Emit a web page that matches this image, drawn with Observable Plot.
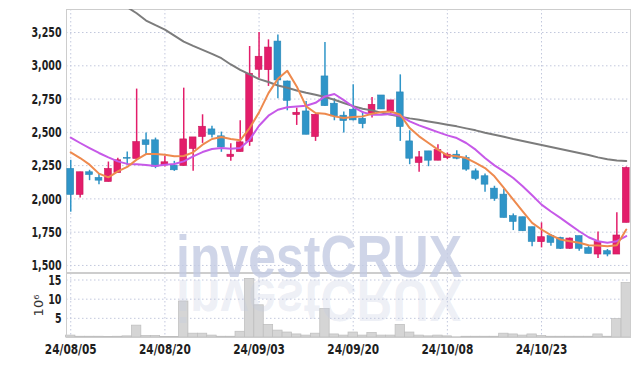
<!DOCTYPE html>
<html><head><meta charset="utf-8">
<script src="https://cdn.jsdelivr.net/npm/d3@7"></script>
<script src="https://cdn.jsdelivr.net/npm/@observablehq/plot@0.6"></script>
<style>
body{margin:0;background:#fff;}
#wrap{position:relative;width:639px;height:366px;overflow:hidden;}
#wrap svg{display:block;overflow:visible;}
#wm{position:absolute;left:0;top:0;pointer-events:none;}
</style></head><body><div id="wrap"></div>
<script>
const dates = ["24/08/05","24/08/06","24/08/07","24/08/08","24/08/09","24/08/12","24/08/13","24/08/14","24/08/16","24/08/19",
"24/08/20","24/08/21","24/08/22","24/08/23","24/08/26","24/08/27","24/08/28","24/08/29","24/08/30","24/09/02",
"24/09/03","24/09/04","24/09/05","24/09/06","24/09/09","24/09/10","24/09/11","24/09/12","24/09/13","24/09/19",
"24/09/20","24/09/23","24/09/24","24/09/25","24/09/26","24/09/27","24/09/30","24/10/02","24/10/04","24/10/07",
"24/10/08","24/10/10","24/10/11","24/10/14","24/10/15","24/10/16","24/10/17","24/10/18","24/10/21","24/10/22",
"24/10/23","24/10/24","24/10/25","24/10/28","24/10/29","24/10/30","24/10/31","24/11/01","24/11/04","24/11/05"];
const open = [2225,2030,2200,2157,2127,2195,2307,2300,2440,2440, 2252,2250,2247,2375,2465,2522,2470,2315,2352,2427, 2970,2967,3182,2882,2630,2657,2465,2920,2715,2625, 2670,2602,2640,2777,2657,2800,2432,2270,2357,2287, 2307,2332,2307,2207,2170,2077,2032,1870,1862,1787, 1675,1720,1707,1625,1720,1630,1582,1607,1582,1820];
const close = [2030,2200,2180,2137,2225,2290,2302,2427,2405,2242, 2275,2215,2447,2462,2542,2482,2387,2332,2425,2940, 3068,3137,2890,2737,2647,2482,2632,2697,2620,2585, 2590,2562,2707,2672,2740,2540,2302,2312,2287,2367, 2332,2302,2220,2150,2107,2000,1857,1827,1757,1677, 1712,1670,1625,1702,1625,1587,1675,1582,1725,2232];
const high = [2290,2200,2215,2187,2277,2305,2352,2825,2495,2457, 2320,2282,2832,2462,2632,2545,2502,2415,2587,3145, 3250,3195,3232,2885,2682,2732,2632,3175,2752,2652, 2857,2657,2762,2777,2740,2932,2512,2357,2357,2407, 2345,2362,2325,2225,2187,2095,2070,1887,1862,1787, 1820,1732,1712,1707,1720,1645,1752,1620,1895,2240];
const low = [1900,2007,2137,2107,2127,2195,2252,2300,2332,2227, 2240,2207,2247,2207,2417,2457,2350,2282,2352,2395, 2907,2845,2752,2662,2552,2482,2432,2697,2587,2495, 2585,2527,2607,2672,2637,2432,2257,2200,2242,2287, 2295,2295,2207,2137,2050,1982,1857,1762,1757,1640, 1632,1645,1620,1622,1607,1587,1552,1565,1582,1820];
const volume = [0.5,0.2,0.2,0.2,0.1,0.2,0.3,3.1,0.4,0.4, 0.1,0.1,9.4,1.0,1.0,0.5,0.2,0.2,1.5,15.3, 8.4,3.3,1.8,1.3,0.8,0.5,1.0,7.4,0.8,0.5, 1.3,0.5,1.2,0.5,0.5,3.3,1.3,0.5,0.3,0.5, 0.3,0.05,0.2,0.2,0.2,0.2,1.0,0.8,0.5,0.8, 0.4,0.2,0.2,0.2,0.2,0.2,0.8,0.2,4.8,14.2];
const ma5 = [2350,2307,2257,2190,2162,2207,2240,2295,2337,2337, 2332,2320,2322,2350,2407,2450,2465,2450,2440,2532, 2650,2795,2902,2962,2845,2695,2645,2640,2620,2607, 2615,2620,2640,2652,2657,2632,2532,2470,2420,2370, 2327,2320,2307,2270,2232,2170,2082,1995,1907,1820, 1770,1728,1695,1682,1670,1652,1650,1645,1652,1770];
const ma20 = [2460,2420,2382,2345,2312,2282,2263,2260,2255,2247, 2257,2262,2282,2320,2352,2375,2382,2377,2382,2445, 2550,2625,2670,2688,2695,2700,2722,2770,2788,2742, 2692,2652,2632,2632,2637,2625,2582,2552,2527,2502, 2477,2457,2420,2370,2307,2252,2207,2157,2095,2027, 1957,1905,1857,1807,1757,1712,1682,1670,1682,1720];
const ma120 = [null,null,null,null,null,null,3440,3395,3340,3305, 3272,3227,3182,3150,3120,3090,3057,3010,2970,2935, 2900,2878,2852,2835,2815,2797,2782,2765,2745,2720, 2697,2677,2665,2648,2632,2618,2605,2595,2582,2570, 2557,2545,2530,2515,2497,2482,2467,2450,2435,2420, 2405,2390,2375,2360,2345,2330,2312,2298,2288,2285];
const tickIdx = [0,10,20,30,40,50];
const priceTicks = [1500,1750,2000,2250,2500,2750,3000,3250];
const volTicks = [5,10,15];

const rows = dates.map((d,i)=>({i, date:d, open:open[i], high:high[i], low:low[i], close:close[i],
  vol:volume[i], ma5:ma5[i], ma20:ma20[i], ma120:ma120[i]}));
const upRows = rows.filter(d=>d.close>=d.open);
const downRows = rows.filter(d=>d.close<d.open);

const W=639, ML=66, MR=9;
const xDomain=[-0.45,59.45];
const font="'DejaVu Sans Condensed', sans-serif";
const up="#e31d6a", down="#2f95c8";
const gridStroke="#c2c8dd";
const dash="1.5,2.5";
const st={fontFamily:font, fontSize:"14.5px", fontWeight:"bold", color:"#1e1e1e", background:"transparent"};

const price = Plot.plot({
  width:W, height:273, marginTop:9, marginBottom:1, marginLeft:ML, marginRight:MR,
  style:st,
  x:{domain:xDomain, axis:null},
  y:{domain:[1447,3423], axis:null},
  marks:[
    Plot.gridY(priceTicks,{stroke:gridStroke, strokeOpacity:1, strokeDasharray:dash}),
    Plot.gridX(tickIdx,{stroke:gridStroke, strokeOpacity:1, strokeDasharray:dash}),
    Plot.axisY(priceTicks,{tickSize:0, tickPadding:5, tickFormat:d3.format(","), label:null, className:"ylab"}),
    Plot.frame({stroke:"#cdcdcd"}),
    Plot.ruleX(upRows,{x:"i", y1:"low", y2:"high", stroke:up, strokeWidth:1.5}),
    Plot.ruleX(downRows,{x:"i", y1:"low", y2:"high", stroke:down, strokeWidth:1.5}),
    Plot.rect(upRows,{x1:d=>d.i-0.36, x2:d=>d.i+0.36, y1:"open", y2:"close", fill:up, stroke:"#c9165c", strokeWidth:0.6}),
    Plot.rect(downRows,{x1:d=>d.i-0.36, x2:d=>d.i+0.36, y1:"open", y2:"close", fill:down, stroke:"#2886b6", strokeWidth:0.6}),
    Plot.line(rows,{x:"i", y:"ma120", stroke:"#7c7c7c", strokeWidth:2, clip:true}),
    Plot.line(rows,{x:"i", y:"ma20", stroke:"#c659e8", strokeWidth:2}),
    Plot.line(rows,{x:"i", y:"ma5", stroke:"#ee8a4e", strokeWidth:2})
  ]
});

const vol = Plot.plot({
  width:W, height:93, marginTop:0, marginBottom:29, marginLeft:ML, marginRight:MR,
  style:st,
  x:{domain:xDomain, axis:null},
  y:{domain:[0,16.7], axis:null},
  marks:[
    Plot.gridY(volTicks,{stroke:gridStroke, strokeOpacity:1, strokeDasharray:dash}),
    Plot.gridX(tickIdx,{stroke:gridStroke, strokeOpacity:1, strokeDasharray:dash}),
    Plot.rect(rows,{x1:d=>d.i-0.5, x2:d=>d.i+0.5, y1:0, y2:"vol", fill:"#d5d5d5", stroke:"#bdbdbd", strokeWidth:0.7}),
    Plot.axisY(volTicks,{tickSize:0, tickPadding:5, label:null, className:"ylab"}),
    Plot.axisY({label:"10⁶", labelAnchor:"center", labelArrow:"none", labelOffset:33, ticks:[], tickSize:0, fontWeight:"normal", fontSize:13, fontFamily:"'DejaVu Sans', sans-serif", fill:"#333"}),
    Plot.axisX(tickIdx,{tickSize:0, tickPadding:6, tickFormat:i=>dates[i], label:null, className:"xlab"}),
    Plot.frame({stroke:"#cdcdcd"})
  ]
});

const wrap=document.getElementById("wrap");
wrap.appendChild(price);
wrap.appendChild(vol);

// narrow the tick labels to the reference's condensed face
d3.select(wrap).selectAll(".ylab text").each(function(){
  const n=this.getComputedTextLength();
  this.setAttribute("textLength", (n*0.73).toFixed(1));
  this.setAttribute("lengthAdjust","spacingAndGlyphs");
});
d3.select(wrap).selectAll(".xlab text").each(function(){
  const n=this.getComputedTextLength();
  this.setAttribute("textLength", (n*0.81).toFixed(1));
  this.setAttribute("lengthAdjust","spacingAndGlyphs");
});

// watermark
const wm = d3.select(wrap).append("svg").attr("id","wm").attr("width",W).attr("height",366);
wm.append("text").attr("x",176).attr("y",277).attr("textLength",286).attr("lengthAdjust","spacingAndGlyphs")
  .attr("font-family","Liberation Sans").attr("font-weight","bold").attr("font-size",60)
  .attr("fill","#c3cbe2").attr("fill-opacity",0.8).text("investCRUX");
wm.append("text").attr("x",176).attr("y",277).attr("textLength",286).attr("lengthAdjust","spacingAndGlyphs")
  .attr("transform","translate(0,557) scale(1,-1)")
  .attr("font-family","Liberation Sans").attr("font-weight","bold").attr("font-size",60)
  .attr("fill","#c3cbe2").attr("fill-opacity",0.3).text("investCRUX");
</script></body></html>
